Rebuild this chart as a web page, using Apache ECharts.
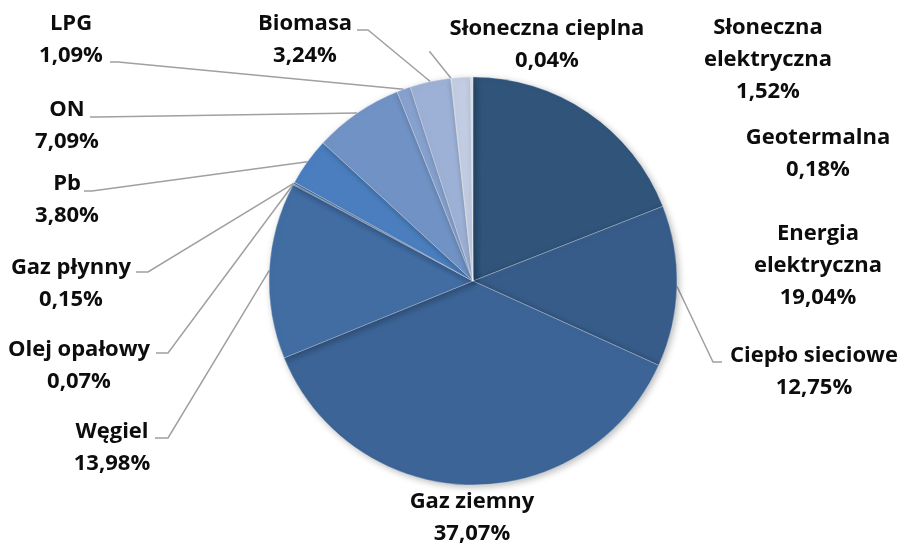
<!DOCTYPE html>
<html>
<head>
<meta charset="utf-8">
<script src="https://cdn.jsdelivr.net/npm/echarts@6/dist/echarts.min.js"></script>
<style>
  html, body { margin: 0; padding: 0; background: #fff; }
  #main { width: 901px; height: 545px; }
</style>
</head>
<body>
<div id="main"></div>
<script>
// udział nośników energii (%), kolejność zgodnie z ruchem wskazówek zegara od góry
const names = [
  "Energia elektryczna", "Ciepło sieciowe", "Gaz ziemny", "Węgiel",
  "Olej opałowy", "Gaz płynny", "Pb", "ON", "LPG", "Biomasa",
  "Słoneczna cieplna", "Słoneczna elektryczna", "Geotermalna"
];
const values = [19.04, 12.75, 37.07, 13.98, 0.07, 0.15, 3.80, 7.09, 1.09, 3.24, 0.04, 1.52, 0.18];
const colors = [
  "#30547a", "#375c89", "#3c6496", "#426da3", "#4774ad", "#4a79b6",
  "#4a7ebe", "#7092c4", "#88a2cf", "#9cb1d5", "#b0c0dc", "#c2cde3", "#d6ddec"
];

// etykiety: środek tekstu [x, y] i zakończenie linii odniesienia [łokieć x, koniec x, y]
const labelPos = [
  [818, 266], [814, 372], [472, 518], [112, 448], [79, 366], [71, 284], [67, 200],
  [67, 126], [71, 40], [305, 40], [547, 45], [768, 60], [818, 154]
];
const leader = [
  null, [713, 722, 362], null, [168, 155, 438], [168, 156, 353], [148, 136, 272], [92, 84, 191],
  [98, 90, 117], [118, 110, 62], [368, 357, 30], [430, 429, 52], null, null
];
const breakNames = {
  "Energia elektryczna": "Energia\nelektryczna",
  "Słoneczna elektryczna": "Słoneczna\nelektryczna"
};

const chart = echarts.init(document.getElementById("main"));

chart.setOption({
  animation: false,
  series: [{
    type: "pie",
    center: [473, 281],
    radius: 204,
    startAngle: 90,
    clockwise: true,
    avoidLabelOverlap: false,
    itemStyle: {
      borderColor: "rgba(255,255,255,0.35)",
      borderWidth: 0.8,
      shadowBlur: 7,
      shadowOffsetX: 2,
      shadowOffsetY: 2,
      shadowColor: "rgba(0,0,0,0.28)"
    },
    label: {
      show: true,
      position: "outside",
      fontFamily: "Open Sans",
      fontWeight: "bold",
      fontSize: 22,
      lineHeight: 32,
      color: "#0d0d0d",
      align: "center",
      formatter: function (p) {
        const n = breakNames[p.name] || p.name;
        return n + "\n" + p.value.toFixed(2).replace(".", ",") + "%";
      }
    },
    labelLine: {
      show: true,
      lineStyle: { color: "#a0a0a0", width: 1.5 }
    },
    labelLayout: function (params) {
      const i = params.dataIndex;
      const out = {
        x: labelPos[i][0],
        y: labelPos[i][1],
        align: "center",
        verticalAlign: "middle"
      };
      const l = leader[i];
      if (l && params.labelLinePoints) {
        const a = params.labelLinePoints[0];
        out.labelLinePoints = [a, [l[0], l[2]], [l[1], l[2]]];
      }
      return out;
    },
    data: names.map(function (n, i) {
      return {
        name: n,
        value: values[i],
        itemStyle: { color: colors[i] },
        labelLine: { show: leader[i] !== null }
      };
    })
  }]
});
</script>
</body>
</html>
